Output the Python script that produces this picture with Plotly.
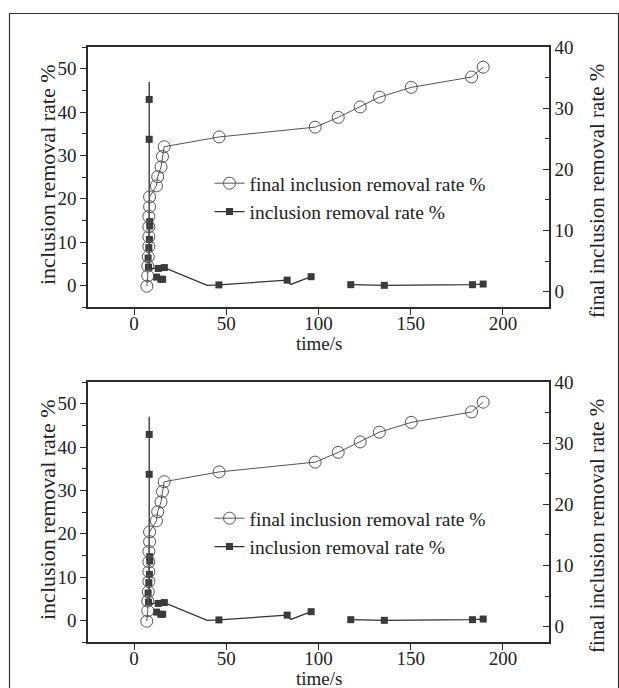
import plotly.graph_objects as go

# ---- data ----
# final inclusion removal rate % (right axis), open circles
circ_x = [6.9, 7.4, 7.4, 7.7, 8.0, 8.0, 8.0, 8.0, 8.4, 8.4, 12.1, 12.8, 14.6, 15.4, 16.3,
          46.1, 98.2, 110.7, 122.6, 133.0, 150.3, 183.0, 189.3]
circ_y = [0.9, 2.6, 4.2, 5.7, 7.4, 9.0, 10.6, 12.3, 13.9, 15.5, 17.3, 18.8, 20.4, 22.1, 23.7,
          25.3, 26.9, 28.5, 30.2, 31.8, 33.4, 35.1, 36.7]

# inclusion removal rate % (left axis), filled squares
sq_x = [8.2, 8.2, 8.5, 8.5, 8.3, 8.0, 7.6, 7.8, 13.1, 16.4, 12.2, 14.5, 15.5,
        46.0, 83.0, 96.0, 117.5, 135.7, 183.5, 189.3]
sq_y = [42.9, 33.7, 14.7, 13.7, 10.6, 8.7, 6.3, 4.2, 3.9, 4.1, 1.9, 1.4, 1.4,
        0.1, 1.2, 2.0, 0.15, 0.0, 0.15, 0.3]

# connecting path of the square series as drawn in the picture
sq_line_x = [8.2, 8.2, 13.1, 16.4, 39.6, 46.0, 83.0, 85.0, 96.0, None, 117.5, 135.7, 183.5, 189.3]
sq_line_y = [47.0, 3.9, 3.9, 4.1, 0.0, 0.1, 1.2, 0.2, 2.0, None, 0.15, 0.0, 0.15, 0.3]

x_ticks = [0, 50, 100, 150, 200]
left_ticks = [0, 10, 20, 30, 40, 50]
right_ticks = [0, 10, 20, 30, 40]

W, H = 619, 688
FONT = "Liberation Serif, Times New Roman, serif"
AX = "#2b2b2b"
TXT = "#222222"

fig = go.Figure()

xdom = [88 / W, 549 / W]
tops = [47, 382]
bots = [307, 642]
doms = [[1 - bots[i] / H, 1 - tops[i] / H] for i in range(2)]

for i in range(2):
    xa = "x" if i == 0 else "x2"
    yl = "y" if i == 0 else "y3"
    yr = "y2" if i == 0 else "y4"
    leg = "legend" if i == 0 else "legend2"
    fig.add_trace(go.Scatter(
        x=circ_x, y=circ_y, xaxis=xa, yaxis=yr, mode="lines+markers",
        name="final inclusion removal rate %", legend=leg,
        line=dict(color="#555555", width=1),
        marker=dict(symbol="circle-open", size=12, color="#555555", line=dict(width=1))))
    fig.add_trace(go.Scatter(
        x=sq_line_x, y=sq_line_y, xaxis=xa, yaxis=yl, mode="lines",
        showlegend=False, line=dict(color="#333333", width=1.3), hoverinfo="skip"))
    fig.add_trace(go.Scatter(
        x=sq_x, y=sq_y, xaxis=xa, yaxis=yl, mode="markers", showlegend=False,
        marker=dict(symbol="square", size=7, color="#3a3a3a")))
    # legend entry for the square series (line + marker)
    fig.add_trace(go.Scatter(
        x=[None], y=[None], xaxis=xa, yaxis=yl, mode="lines+markers",
        name="inclusion removal rate %", legend=leg,
        line=dict(color="#333333", width=1.3),
        marker=dict(symbol="square", size=7, color="#3a3a3a")))

layout = dict(
    width=W, height=H, margin=dict(l=0, r=0, t=0, b=0, pad=0, autoexpand=False),
    paper_bgcolor="white", plot_bgcolor="white",
    font=dict(family=FONT, size=19, color=TXT),
    showlegend=True,
)

axis_common = dict(showgrid=False, zeroline=False, linecolor=AX, linewidth=1.5,
                   automargin=False,
                   tickcolor=AX, tickfont=dict(family=FONT, size=19, color=TXT))

annotations = []
for i in range(2):
    xk = "xaxis" if i == 0 else "xaxis2"
    ylk = "yaxis" if i == 0 else "yaxis3"
    yrk = "yaxis2" if i == 0 else "yaxis4"
    yl = "y" if i == 0 else "y3"
    xa = "x" if i == 0 else "x2"
    layout[xk] = dict(axis_common, domain=xdom, anchor=yl, range=[-25, 225],
                      tickvals=x_ticks, ticks="outside", ticklen=6, showline=True,
                      mirror=True, ticklabelstandoff=-8)
    layout[ylk] = dict(axis_common, domain=doms[i], anchor=xa, range=[-5, 55],
                       tickvals=left_ticks, ticks="outside", ticklen=6, showline=True,
                       minor=dict(dtick=5, tick0=0, ticks="outside", ticklen=4, tickcolor=AX))
    layout[yrk] = dict(axis_common, anchor=xa, overlaying=yl, side="right", range=[-2.5, 40],
                       tickvals=right_ticks, ticks="inside", ticklen=6, showline=True,
                       minor=dict(dtick=5, tick0=0, ticks="inside", ticklen=4, tickcolor=AX))
    mid = (tops[i] + bots[i]) / 2
    annotations.append(dict(text="time/s", xref="paper", yref="paper",
                            x=(88 + 549) / 2 / W, y=1 - (bots[i] + 36) / H,
                            xanchor="center", yanchor="middle", showarrow=False,
                            font=dict(family=FONT, size=19, color=TXT)))
    annotations.append(dict(text="inclusion removal rate %", xref="paper", yref="paper",
                            x=47 / W, y=1 - (mid - 2) / H, textangle=-90,
                            xanchor="center", yanchor="middle", showarrow=False,
                            font=dict(family=FONT, size=22, color=TXT)))
    annotations.append(dict(text="final inclusion removal rate %", xref="paper", yref="paper",
                            x=597 / W, y=1 - (mid + 14) / H, textangle=-90,
                            xanchor="center", yanchor="middle", showarrow=False,
                            font=dict(family=FONT, size=21, color=TXT)))

# extra overlay x-axes: inside ticks on bottom & top
extra = [("xaxis3", "x", "y", "bottom"), ("xaxis4", "x", "y", "top"),
         ("xaxis5", "x2", "y3", "bottom"), ("xaxis6", "x2", "y3", "top")]
for k, ov, anc, side in extra:
    layout[k] = dict(overlaying=ov, anchor=anc, side=side, range=[-25, 225], domain=xdom,
                     showgrid=False, zeroline=False, showline=False, showticklabels=False,
                     automargin=False,
                     tickvals=[-25 + 25 * j for j in range(1, 10)], ticks="inside",
                     ticklen=5, tickcolor=AX, tickwidth=1)

for k, top in (("legend", 164), ("legend2", 499)):
    layout[k] = dict(x=209.5 / W, y=1 - top / H, xanchor="left", yanchor="top",
                     bgcolor="rgba(0,0,0,0)", font=dict(family=FONT, size=19.5, color=TXT),
                     tracegroupgap=0, itemsizing="trace")

layout["annotations"] = annotations
layout["shapes"] = [dict(type="rect", xref="paper", yref="paper",
                         x0=9.5 / W, x1=618.5 / W, y0=-0.05, y1=1 - 13.5 / H,
                         line=dict(color="#333333", width=1.2))]

fig.update_layout(**layout)
post = ("document.body.style.margin='0px';document.body.style.overflow='hidden';"
        "var d=document.getElementsByClassName('plotly-graph-div')[0];"
        "d.style.position='absolute';d.style.top='0px';d.style.left='0px';")
fig.write_html("out.html", config={"displayModeBar": False}, post_script=post)
